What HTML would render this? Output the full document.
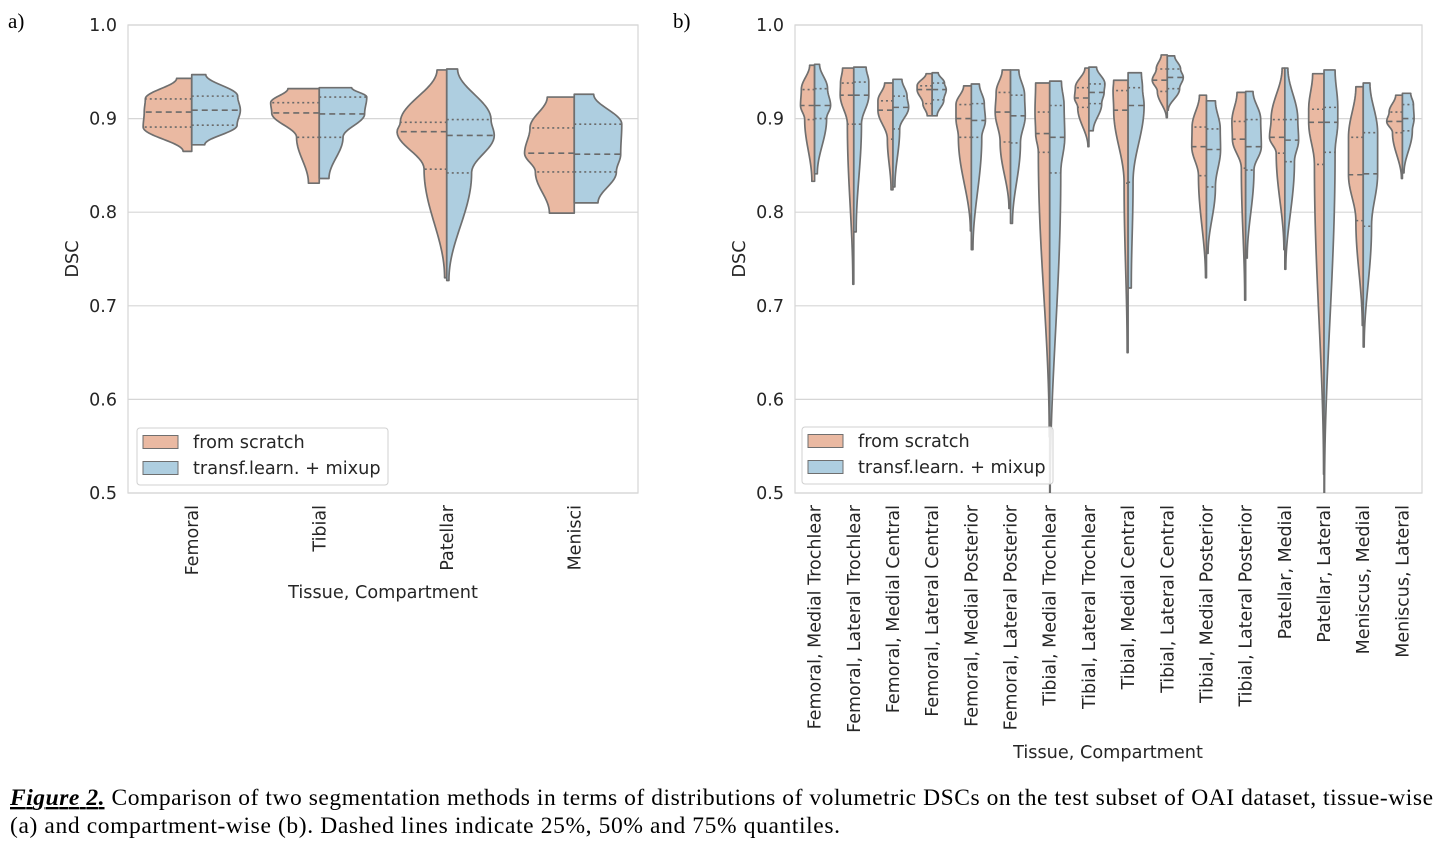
<!DOCTYPE html>
<html><head><meta charset="utf-8"><style>
html,body{margin:0;padding:0;background:#fff;}
svg{display:block;}
.tick{font-family:"DejaVu Sans","Liberation Sans",sans-serif;font-size:17.5px;fill:#262626;}
.lab{font-family:"DejaVu Sans","Liberation Sans",sans-serif;font-size:17.7px;fill:#262626;}
.cap{font-family:"Liberation Serif",serif;font-size:23.5px;fill:#000;}
</style></head><body>
<svg id="fig" width="1445" height="848" viewBox="0 0 1445 848" xmlns="http://www.w3.org/2000/svg">
<defs>
<clipPath id="clipA"><rect x="128" y="25" width="510" height="468"/></clipPath>
<clipPath id="clipB"><rect x="795" y="25" width="627" height="468"/></clipPath>
</defs>
<text x="8" y="28" font-family="Liberation Serif,serif" font-size="21">a)</text>
<text x="673" y="28" font-family="Liberation Serif,serif" font-size="21">b)</text>
<g id="panelA"></g>
<g id="panelB"></g>
<text class="cap" x="10" y="805" textLength="1423" lengthAdjust="spacing"><tspan font-weight="bold" font-style="italic" text-decoration="underline">Figure 2.</tspan> Comparison of two segmentation methods in terms of distributions of volumetric DSCs on the test subset of OAI dataset, tissue-wise</text>
<text class="cap" x="10" y="833" textLength="830" lengthAdjust="spacing">(a) and compartment-wise (b). Dashed lines indicate 25%, 50% and 75% quantiles.</text>
</svg>
<script>
// ---- data (quantiles: min, q25, median, q75, max) ----
const catsA = ["Femoral","Tibial","Patellar","Menisci"];
const scratchA = [[0.865,0.891,0.907,0.921,0.943],[0.831,0.880,0.906,0.917,0.932],[0.730,0.846,0.886,0.896,0.952],[0.799,0.843,0.863,0.890,0.923]];
const mixupA = [[0.872,0.893,0.909,0.924,0.947],[0.836,0.880,0.905,0.923,0.933],[0.727,0.842,0.882,0.899,0.953],[0.810,0.843,0.862,0.894,0.926]];
// relative density at min, q25, median, q75, max
const scratchAdens = [[0.16,0.9,0.88,0.86,0.28],[0.2,0.42,0.88,0.9,0.58],[0.04,0.42,0.92,0.86,0.18],[0.46,0.72,0.92,0.82,0.5]];
const mixupAdens = [[0.24,0.84,0.9,0.85,0.26],[0.18,0.44,0.84,0.88,0.6],[0.04,0.46,0.88,0.82,0.2],[0.44,0.78,0.86,0.88,0.36]];

const catsB = ["Femoral, Medial Trochlear","Femoral, Lateral Trochlear","Femoral, Medial Central","Femoral, Lateral Central","Femoral, Medial Posterior","Femoral, Lateral Posterior","Tibial, Medial Trochlear","Tibial, Lateral Trochlear","Tibial, Medial Central","Tibial, Lateral Central","Tibial, Medial Posterior","Tibial, Lateral Posterior","Patellar, Medial","Patellar, Lateral","Meniscus, Medial","Meniscus, Lateral"];
const scratchB = [[0.833,0.899,0.914,0.931,0.957],[0.723,0.894,0.925,0.938,0.954],[0.824,0.878,0.909,0.919,0.938],[0.903,0.916,0.931,0.935,0.948],[0.780,0.880,0.900,0.915,0.935],[0.804,0.875,0.907,0.928,0.952],[0.560,0.864,0.884,0.907,0.938],[0.870,0.912,0.922,0.933,0.954],[0.650,0.831,0.909,0.930,0.941],[0.901,0.929,0.941,0.953,0.968],[0.730,0.839,0.870,0.891,0.925],[0.706,0.847,0.878,0.897,0.928],[0.760,0.863,0.880,0.899,0.954],[0.520,0.851,0.896,0.910,0.948],[0.679,0.791,0.840,0.880,0.934],[0.836,0.885,0.897,0.907,0.925]];
const mixupB = [[0.841,0.900,0.914,0.932,0.958],[0.779,0.894,0.925,0.939,0.955],[0.827,0.889,0.912,0.924,0.942],[0.903,0.920,0.931,0.938,0.949],[0.760,0.880,0.898,0.916,0.937],[0.788,0.874,0.903,0.925,0.952],[0.500,0.842,0.880,0.914,0.940],[0.887,0.916,0.928,0.937,0.955],[0.719,0.832,0.914,0.933,0.949],[0.909,0.932,0.944,0.953,0.967],[0.756,0.827,0.867,0.889,0.919],[0.751,0.845,0.870,0.899,0.929],[0.739,0.854,0.877,0.899,0.954],[0.500,0.864,0.896,0.912,0.952],[0.656,0.785,0.841,0.885,0.938],[0.842,0.887,0.900,0.915,0.927]];
const scratchBdens = [[0.17,0.62,0.88,0.83,0.31],[0.06,0.4,0.85,0.83,0.7],[0.12,0.35,0.94,0.94,0.52],[0.31,0.58,0.94,0.94,0.38],[0.06,0.81,0.96,0.96,0.48],[0.1,0.65,0.96,0.9,0.52],[0.03,0.71,0.88,0.92,0.88],[0.06,0.7,0.9,0.85,0.25],[0.06,0.25,0.9,0.94,0.9],[0.06,0.62,0.94,0.69,0.38],[0.06,0.5,0.92,0.9,0.44],[0.06,0.27,0.83,0.86,0.54],[0.06,0.54,0.96,0.86,0.17],[0.03,0.6,0.96,0.96,0.71],[0.06,0.46,0.92,0.92,0.46],[0.06,0.62,0.98,0.83,0.42]];
const mixupBdens = [[0.17,0.75,1.0,0.81,0.31],[0.15,0.48,0.94,0.94,0.77],[0.12,0.42,0.98,0.88,0.56],[0.31,0.73,0.88,0.77,0.38],[0.1,0.65,0.88,0.81,0.5],[0.12,0.62,0.92,0.88,0.52],[0.03,0.69,0.94,0.9,0.73],[0.27,0.8,0.95,1.0,0.48],[0.2,0.31,1.0,0.9,0.83],[0.06,0.77,1.0,0.83,0.46],[0.1,0.56,0.88,0.86,0.56],[0.1,0.52,0.98,0.94,0.46],[0.06,0.6,0.86,0.81,0.19],[0.03,0.69,0.86,0.86,0.69],[0.06,0.52,0.9,0.9,0.42],[0.1,0.62,0.73,0.69,0.52]];
const yTicks = [0.5,0.6,0.7,0.8,0.9,1.0];
const yTickLabels = ["0.5","0.6","0.7","0.8","0.9","1.0"];
const legendLabels = ["from scratch","transf.learn. + mixup"];

const NS = "http://www.w3.org/2000/svg";
const ORANGE = "#eab9a2", BLUE = "#aecee0", EDGE = "#6f6f6f";
function mk(tag, attrs, parent){const e=document.createElementNS(NS,tag);for(const k in attrs)e.setAttribute(k,attrs[k]);parent.appendChild(e);return e;}

function widthAt(v,q,d){
  if(v<=q[0])return d[0]; if(v>=q[4])return d[4];
  for(let i=0;i<4;i++){ if(v>=q[i]&&v<=q[i+1]){const t=(v-q[i])/((q[i+1]-q[i])||1e-9);return d[i]+(d[i+1]-d[i])*(1-Math.cos(Math.PI*t))/2;}}
  return 0;
}

function drawPanel(g, P, cats, s1, s2, d1, d2, halfW, clipId, legendBox, titleX, titleY){
  const y = v => P.top + (1-v)/(0.5)*(P.bottom-P.top);
  const band = (P.right-P.left)/cats.length;
  const x = i => P.left + band*(i+0.5);
  yTicks.forEach((t,i)=>{
    const l=mk('line',{x1:P.left,x2:P.right,y1:y(t),y2:y(t),stroke:'#d6d6d6','stroke-width':1.2},g);
    
    
    const tx=mk('text',{x:P.left-11,y:y(t)+6,'text-anchor':'end',class:'tick'},g);
    tx.textContent=yTickLabels[i];
    
    
  });
  const fr=mk('rect',{x:P.left,y:P.top,width:P.right-P.left,height:P.bottom-P.top,fill:'none',stroke:'#d6d6d6','stroke-width':1.2},g);
  
  
  const vg=mk('g',{'clip-path':'url(#'+clipId+')'},g);
  cats.forEach((c,i)=>{
    [[s1[i],d1[i],-1,ORANGE,'scratch'],[s2[i],d2[i],1,BLUE,'mixup']].forEach(([q,d,side,col,nm])=>{
      const cx=x(i); let pts=[[cx,y(q[0])]];
      const N=80;
      for(let k=0;k<=N;k++){const v=q[0]+(q[4]-q[0])*k/N;pts.push([cx+side*widthAt(v,q,d)*halfW,y(v)]);}
      pts.push([cx,y(q[4])]);
      const p=mk('path',{d:'M'+pts.map(p=>p[0].toFixed(2)+','+p[1].toFixed(2)).join('L')+'Z',fill:col,stroke:EDGE,'stroke-width':1.7,'stroke-linejoin':'round'},vg);
      
      
      [1,2,3].forEach(j=>{
        const w=d[j]*halfW;
        const ln=mk('line',{x1:cx,x2:cx+side*w,y1:y(q[j]),y2:y(q[j]),stroke:'#6a6a6a','stroke-width':1.6,'stroke-dasharray':j===2?'6,4':'2,3'},vg);
        
        
      });
    });
    const tl=mk('text',{x:0,y:0,'text-anchor':'end',class:'tick',transform:'translate('+(x(i)+6)+','+(P.bottom+12)+') rotate(-90)'},g);
    tl.textContent=c;
    
    
  });
  const yt=mk('text',{x:0,y:0,'text-anchor':'middle',class:'lab',transform:'translate('+(P.left-50)+','+((P.top+P.bottom)/2)+') rotate(-90)'},g);
  yt.textContent='DSC';
  
  
  const xt=mk('text',{x:titleX,y:titleY,'text-anchor':'middle',class:'lab'},g);
  xt.textContent='Tissue, Compartment';
  
  
  const lg=mk('g',{},g);
  
  
  mk('rect',{x:legendBox[0],y:legendBox[1],width:251,height:57,rx:3,fill:'#fff','fill-opacity':0.85,stroke:'#d0d0d0','stroke-width':1},lg);
  [ORANGE,BLUE].forEach((col,k)=>{
    const yy=legendBox[1]+14+k*26;
    const r=mk('rect',{x:legendBox[0]+6,y:yy-6.5,width:35,height:13,fill:col,stroke:EDGE,'stroke-width':1},lg);
    
    
    const t=mk('text',{x:legendBox[0]+56,y:yy+6,class:'lab'},lg);
    t.textContent=legendLabels[k];
    
    
  });
}
drawPanel(document.getElementById('panelA'),{left:128,right:638,top:25,bottom:493},catsA,scratchA,mixupA,scratchAdens,mixupAdens,54,'clipA',[137,428],383,598);
drawPanel(document.getElementById('panelB'),{left:795,right:1422,top:25,bottom:493},catsB,scratchB,mixupB,scratchBdens,mixupBdens,16,'clipB',[802,427],1108,758);
</script>
</body></html>
